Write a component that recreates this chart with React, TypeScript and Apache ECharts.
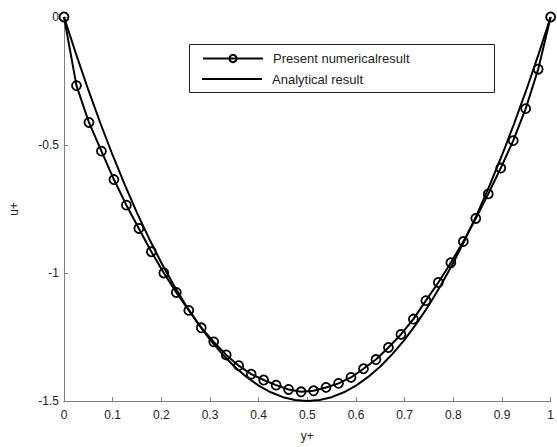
import React, { useEffect, useRef } from "react";
import * as echarts from "echarts";

// Present numerical result: 40 nodes, x = i/39
const numericalY: number[] = [
  0, -0.268, -0.412, -0.524, -0.635, -0.735, -0.826, -0.917, -1.0, -1.076,
  -1.146, -1.214, -1.269, -1.32, -1.362, -1.395, -1.418, -1.438, -1.455, -1.464,
  -1.46, -1.447, -1.431, -1.408, -1.374, -1.338, -1.291, -1.24, -1.18, -1.108,
  -1.037, -0.96, -0.877, -0.787, -0.691, -0.59, -0.483, -0.358, -0.204, 0,
];
const numericalX: number[] = numericalY.map((_, i) => i / (numericalY.length - 1));

// Analytical result, read at x steps of 0.025
const analyticalX: number[] = [
  0, 0.025, 0.05, 0.075, 0.1, 0.125, 0.15, 0.175, 0.2, 0.225, 0.25, 0.275, 0.3, 0.325,
  0.35, 0.375, 0.4, 0.425, 0.45, 0.475, 0.5, 0.525, 0.55, 0.575, 0.6, 0.625, 0.65,
  0.675, 0.7, 0.725, 0.75, 0.775, 0.8, 0.825, 0.85, 0.875, 0.9, 0.925, 0.95, 0.975, 1,
];
const analyticalY: number[] = [
  0, -0.146, -0.285, -0.416, -0.54, -0.656, -0.765, -0.866, -0.96, -1.046, -1.125,
  -1.196, -1.26, -1.316, -1.365, -1.406, -1.44, -1.466, -1.485, -1.496, -1.5, -1.496,
  -1.485, -1.466, -1.44, -1.406, -1.365, -1.316, -1.26, -1.196, -1.125, -1.046, -0.96,
  -0.866, -0.765, -0.656, -0.54, -0.416, -0.285, -0.146, 0,
];

const seriesNames = ["Present numericalresult", "Analytical result"];
const xAxisTitle = "y+";
const yAxisTitle = "u+";

export default function App() {
  const ref = useRef<HTMLDivElement>(null);
  useEffect(() => {
    if (!ref.current) return;
    const chart = echarts.init(ref.current, undefined, { renderer: "svg" });
    const font = "Liberation Sans, Arial, sans-serif";
    const legendText = { color: "#222", fontSize: 13, fontFamily: font, padding: [0, 0, 0, 5] };
    chart.setOption({
      animation: false,
      backgroundColor: "#fff",
      grid: { left: 60, right: 5, top: 17, bottom: 40, containLabel: false },
      xAxis: {
        type: "value",
        min: 0,
        max: 1,
        interval: 0.1,
        name: xAxisTitle,
        nameLocation: "middle",
        nameGap: 29,
        nameTextStyle: { color: "#222", fontSize: 12, fontFamily: font },
        axisLine: { onZero: false, lineStyle: { color: "#808080", width: 1 } },
        axisTick: { inside: true, length: 4, lineStyle: { color: "#808080" } },
        axisLabel: { color: "#222", fontSize: 12, fontFamily: font, margin: 8 },
        splitLine: { show: false },
      },
      yAxis: {
        type: "value",
        min: -1.5,
        max: 0,
        interval: 0.5,
        name: yAxisTitle,
        nameLocation: "middle",
        nameGap: 44,
        nameRotate: 90,
        nameTextStyle: { color: "#222", fontSize: 12, fontFamily: font },
        axisLine: { show: true, onZero: false, lineStyle: { color: "#808080", width: 1 } },
        axisTick: { show: true, inside: true, length: 4, lineStyle: { color: "#808080" } },
        axisLabel: { color: "#222", fontSize: 12, fontFamily: font, margin: 5 },
        splitLine: { show: false },
      },
      legend: [
        {
          orient: "vertical",
          left: 202,
          top: 52,
          itemWidth: 60,
          itemHeight: 9,
          padding: 0,
          textStyle: legendText,
          data: [seriesNames[0]],
        },
        {
          orient: "vertical",
          left: 202,
          top: 72.5,
          itemWidth: 60,
          itemHeight: 2,
          padding: 0,
          icon: "rect",
          textStyle: legendText,
          data: [seriesNames[1]],
        },
      ],
      graphic: [
        {
          type: "rect",
          shape: { x: 189.5, y: 44.5, width: 305, height: 48 },
          style: { fill: "none", stroke: "#222", lineWidth: 1 },
          z: 100,
        },
      ],
      series: [
        {
          name: seriesNames[0],
          type: "line",
          data: numericalX.map((x, i) => [x, numericalY[i]]),
          symbol: "circle",
          symbolSize: 9,
          showSymbol: true,
          lineStyle: { color: "#000", width: 2 },
          itemStyle: { color: "rgba(0,0,0,0)", borderColor: "#000", borderWidth: 1.8 },
          z: 3,
        },
        {
          name: seriesNames[1],
          type: "line",
          data: analyticalX.map((x, i) => [x, analyticalY[i]]),
          symbol: "none",
          showSymbol: false,
          lineStyle: { color: "#000", width: 2 },
          itemStyle: { color: "#000" },
          z: 2,
        },
      ],
    });
    return () => chart.dispose();
  }, []);
  return <div ref={ref} style={{ width: 557, height: 447, position: "absolute", left: 0, top: 0 }} />;
}
